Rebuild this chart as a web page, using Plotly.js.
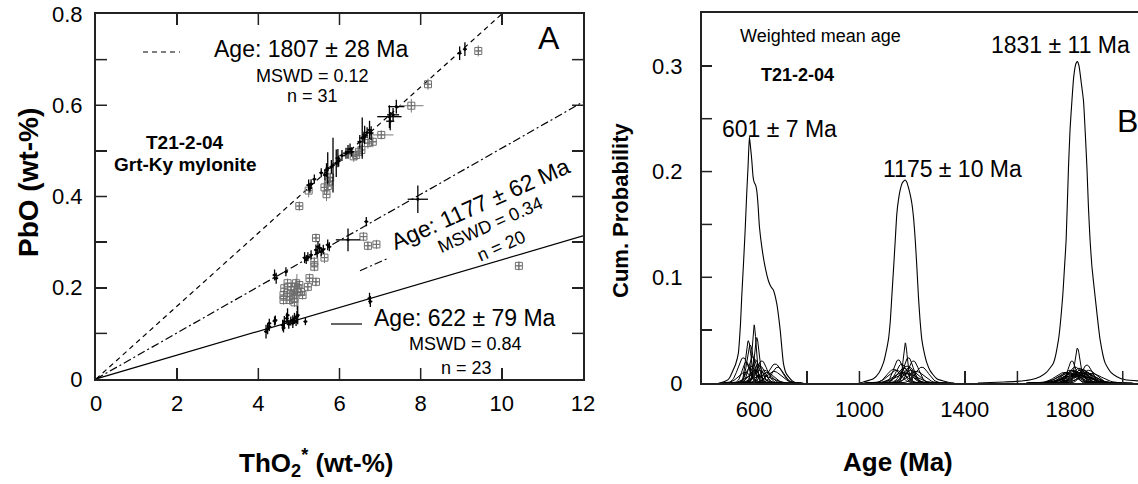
<!DOCTYPE html>
<html><head><meta charset="utf-8">
<script src="https://cdn.plot.ly/plotly-3.0.1.min.js"></script>
<style>html,body{margin:0;padding:0;background:#fff;overflow:hidden}#chart{width:1138px;height:484px}</style>
</head><body><div id="chart"></div>
<script>
// ---------------- Panel A data: ThO2* vs PbO (wt-%) ----------------
// Older population (black, 1807 Ma isochron)
const oldThO2 = [5.24,5.27,5.38,5.55,5.68,5.71,5.84,5.92,5.96,6.16,6.21,6.26,6.30,6.56,6.50,6.62,6.74,6.78,7.23,7.25,7.32,7.40,8.96,9.09,5.64,5.98,6.60,6.06,5.80,6.68,5.30];
const oldPbO  = [0.425,0.418,0.438,0.452,0.458,0.462,0.469,0.473,0.484,0.495,0.498,0.504,0.498,0.528,0.520,0.535,0.546,0.539,0.575,0.565,0.579,0.597,0.714,0.723,0.447,0.478,0.530,0.490,0.465,0.540,0.428];
const oldThErr = [0.06,0.05,0.05,0.05,0.06,0.06,0.05,0.06,0.06,0.08,0.08,0.08,0.06,0.08,0.06,0.06,0.06,0.06,0.30,0.10,0.15,0.20,0.05,0.05,0.05,0.06,0.06,0.06,0.05,0.06,0.05];
const oldPbErr = [0.012,0.010,0.010,0.010,0.015,0.035,0.060,0.030,0.020,0.012,0.015,0.012,0.010,0.045,0.015,0.020,0.020,0.015,0.025,0.020,0.015,0.015,0.015,0.015,0.012,0.012,0.012,0.012,0.015,0.012,0.010];
// Intermediate population (black, 1177 Ma isochron)
const midThO2 = [4.40,4.44,4.68,5.14,5.22,5.30,5.42,5.47,5.51,5.55,5.71,5.75,6.21,6.66,7.93,5.18,5.45,5.60];
const midPbO  = [0.228,0.221,0.235,0.266,0.268,0.272,0.283,0.290,0.287,0.279,0.294,0.290,0.305,0.345,0.394,0.262,0.276,0.284];
const midThErr = [0.05,0.05,0.05,0.05,0.05,0.05,0.05,0.05,0.05,0.05,0.05,0.05,0.30,0.05,0.25,0.05,0.05,0.05];
const midPbErr = [0.012,0.012,0.010,0.012,0.010,0.010,0.012,0.012,0.010,0.010,0.012,0.010,0.025,0.010,0.030,0.010,0.010,0.010];
// Young population (black, 622 Ma isochron)
const youngThO2 = [4.19,4.23,4.27,4.27,4.40,4.42,4.60,4.64,4.62,4.70,4.72,4.80,4.85,4.89,4.93,4.95,4.97,5.16,6.74,6.76,4.75,4.85];
const youngPbO  = [0.104,0.110,0.115,0.122,0.127,0.129,0.118,0.126,0.112,0.133,0.140,0.127,0.122,0.133,0.126,0.137,0.140,0.126,0.177,0.170,0.120,0.130];
const youngThErr = [0.05,0.05,0.05,0.05,0.05,0.05,0.05,0.05,0.05,0.05,0.05,0.05,0.05,0.05,0.05,0.05,0.05,0.05,0.05,0.05,0.05,0.05];
const youngPbErr = [0.015,0.012,0.010,0.010,0.010,0.010,0.012,0.012,0.010,0.012,0.015,0.010,0.010,0.012,0.010,0.012,0.020,0.008,0.012,0.012,0.010,0.010];
// Excluded analyses (grey squares)
const greyThO2 = [5.01,5.24,5.63,5.71,5.75,5.77,5.68,6.35,6.41,6.48,6.54,6.70,6.82,7.03,7.77,8.18,9.42,
                  5.42,5.63,5.38,5.38,6.59,6.70,6.91,4.64,4.62,4.62,4.77,4.89,4.72,4.81,4.89,4.97,5.05,4.93,5.01,4.85,4.72,5.22,5.26,5.42,5.09,4.89,4.95,10.42];
const greyPbO  = [0.379,0.413,0.420,0.423,0.433,0.442,0.405,0.488,0.491,0.498,0.502,0.517,0.520,0.535,0.599,0.646,0.719,
                  0.309,0.266,0.246,0.257,0.312,0.292,0.295,0.199,0.184,0.173,0.173,0.177,0.210,0.202,0.195,0.199,0.191,0.210,0.206,0.184,0.188,0.202,0.221,0.213,0.184,0.168,0.190,0.248];
const greyThErr = [0.06,0.06,0.06,0.06,0.06,0.06,0.06,0.06,0.06,0.06,0.06,0.06,0.10,0.30,0.30,0.06,0.06,
                   0.06,0.06,0.06,0.06,0.06,0.06,0.06,0.06,0.06,0.06,0.06,0.06,0.06,0.06,0.06,0.06,0.06,0.06,0.06,0.06,0.06,0.06,0.06,0.06,0.06,0.06,0.06,0.06];
const greyPbErr = [0.010,0.015,0.015,0.015,0.010,0.010,0.015,0.012,0.012,0.012,0.012,0.012,0.012,0.010,0.015,0.012,0.012,
                   0.010,0.012,0.010,0.010,0.010,0.010,0.010,0.010,0.010,0.010,0.010,0.010,0.010,0.010,0.010,0.010,0.010,0.010,0.010,0.010,0.010,0.010,0.010,0.010,0.010,0.010,0.040,0.010];
// Isochron slopes (PbO per wt-% ThO2*) for 1807, 1177 and 622 Ma
const isoSlopes = [0.0800, 0.0506, 0.02613];
const isoDash = ['5px,4px', '8px,3px,2px,3px', 'solid'];
// tick positions
const aXTicks = [2,4,6,8,10];
const aYTicks = [0.1,0.2,0.3,0.4,0.5,0.6,0.7];
const bXTicks = [600,800,1000,1200,1400,1600,1800,2000];
const bYTicks = [0.05,0.1,0.15,0.2,0.25,0.3];

// ---------------- Panel B data: probability curves ----------------
const env1Age = [470,483,500,509,520,530,540,548,553,560,566,572,577,582,586,591,596,600,606,610,615,620,629,640,654,664,673,686,699,711,720,730,745,762,780];
const env1Val = [0,0.001,0.003,0.006,0.012,0.018,0.028,0.055,0.082,0.115,0.145,0.180,0.205,0.233,0.224,0.211,0.195,0.190,0.187,0.182,0.168,0.148,0.129,0.112,0.097,0.091,0.088,0.075,0.050,0.019,0.010,0.006,0.002,0,0];
const env2Age = [1000,1015,1053,1075,1091,1100,1110,1117,1123,1130,1136,1142,1148,1155,1162,1168,1174,1180,1186,1193,1199,1206,1212,1218,1224,1230,1237,1245,1256,1270,1294,1333,1360];
const env2Val = [0,0.001,0.004,0.010,0.019,0.028,0.041,0.058,0.082,0.110,0.135,0.160,0.173,0.183,0.189,0.191,0.192,0.190,0.185,0.178,0.170,0.155,0.135,0.110,0.082,0.060,0.041,0.030,0.019,0.011,0.004,0.001,0];
const env3Age = [1450,1498,1550,1598,1650,1686,1710,1737,1756,1772,1779,1785,1794,1800,1807,1814,1822,1828,1834,1842,1851,1858,1864,1870,1876,1883,1895,1914,1933,1955,1978,2010,2058];
const env3Val = [0,0.0005,0.001,0.0015,0.003,0.006,0.010,0.019,0.041,0.082,0.110,0.135,0.204,0.240,0.267,0.290,0.302,0.304,0.300,0.285,0.267,0.235,0.204,0.165,0.135,0.110,0.082,0.041,0.019,0.010,0.006,0.003,0.002];
// single analyses: age, 1-sigma error, peak probability
const grainAge  = [600,610,578,585,559,629,680,623,690,595,570,605,640,615,588,650,600,565,620,675,598,630,
                   1174,1148,1186,1205,1237,1160,1170,1180,1195,1140,1215,1165,1178,1130,1190,
                   1828,1807,1864,1820,1835,1845,1800,1815,1850,1790,1870,1830,1810,1840,1825,1855,1780,1880,1833,1822,1860,1795,1838,1812];
const grainErr  = [8,9,10,12,20,20,25,18,22,15,15,14,22,16,18,25,20,25,22,28,30,35,
                   8,18,18,20,25,20,25,22,28,30,30,35,40,25,20,
                   10,15,20,25,25,30,30,35,30,35,30,40,40,35,45,40,35,40,50,45,35,40,30,30];
const grainPeak = [0.055,0.043,0.040,0.036,0.024,0.021,0.018,0.016,0.015,0.025,0.020,0.022,0.012,0.018,0.016,0.010,0.012,0.010,0.012,0.011,0.008,0.007,
                   0.038,0.022,0.024,0.021,0.015,0.018,0.014,0.016,0.012,0.012,0.011,0.010,0.009,0.013,0.015,
                   0.033,0.021,0.017,0.015,0.014,0.013,0.012,0.011,0.012,0.010,0.012,0.010,0.009,0.010,0.008,0.009,0.010,0.009,0.007,0.008,0.010,0.009,0.012,0.012];

// ---------------- build figure ----------------
const W = 1138, H = 484;
const PX = v => v / W, PY = v => 1 - v / H;
const FONT = 'Liberation Sans, Arial, Helvetica, sans-serif';
const traces = [];

isoSlopes.forEach((s, i) => {
  traces.push({x:[0,12], y:[0,12*s], mode:'lines', xaxis:'x', yaxis:'y', hoverinfo:'skip',
    line:{color:'#000', width:1.2, dash:isoDash[i]}});
});
traces.push({x:greyThO2, y:greyPbO, mode:'markers', xaxis:'x', yaxis:'y',
  marker:{symbol:'square-cross-open', size:7, color:'#6e6e6e', line:{width:1, color:'#6e6e6e'}},
  error_x:{type:'data', array:greyThErr, color:'#7a7a7a', thickness:1, width:0},
  error_y:{type:'data', array:greyPbErr, color:'#7a7a7a', thickness:1, width:0}});
[[oldThO2,oldPbO,oldThErr,oldPbErr],[midThO2,midPbO,midThErr,midPbErr],[youngThO2,youngPbO,youngThErr,youngPbErr]].forEach(g => {
  traces.push({x:g[0], y:g[1], mode:'markers', xaxis:'x', yaxis:'y',
    marker:{symbol:'circle', size:3, color:'#000'},
    error_x:{type:'data', array:g[2], color:'#000', thickness:1.3, width:0},
    error_y:{type:'data', array:g[3], color:'#000', thickness:1.3, width:0}});
});

// probability curves of single analyses
for (let i = 0; i < grainAge.length; i++) {
  const a = grainAge[i], s = grainErr[i], h = grainPeak[i];
  const xs = [], ys = [];
  for (let k = -24; k <= 24; k++) {
    const t = a + k * s / 6;
    xs.push(t); ys.push(h * Math.exp(-0.5 * Math.pow((t - a) / s, 2)));
  }
  traces.push({x:xs, y:ys, mode:'lines', xaxis:'x2', yaxis:'y2', hoverinfo:'skip',
    line:{color:'#000', width:1}});
}
[[env1Age,env1Val],[env2Age,env2Val],[env3Age,env3Val]].forEach(e => {
  traces.push({x:e[0], y:e[1], mode:'lines', xaxis:'x2', yaxis:'y2', hoverinfo:'skip',
    line:{color:'#000', width:1.1, shape:'spline', smoothing:0.5}});
});

const ann = (text, x, y, size, opts) => Object.assign({text, x:PX(x), y:PY(y), xref:'paper', yref:'paper',
  showarrow:false, xanchor:'center', yanchor:'middle', font:{family:FONT, size, color:'#000'}}, opts || {});

const annotations = [
  ann('Age: 1807 ± 28 Ma', 311, 49, 23),
  ann('MSWD = 0.12', 312, 76, 18),
  ann('n = 31', 312, 96, 18),
  ann('A', 549, 38, 32),
  ann('<b>T21-2-04</b>', 185, 143, 19),
  ann('<b>Grt-Ky mylonite</b>', 185, 164, 19),
  ann('Age: 1177 ± 62 Ma', 480, 204, 23, {textangle:-24}),
  ann('MSWD = 0.34', 490, 225, 18, {textangle:-24}),
  ann('n = 20', 501, 246, 18, {textangle:-24}),
  ann('Age: 622 ± 79 Ma', 465, 318, 23),
  ann('MSWD = 0.84', 465, 344, 18),
  ann('n = 23', 466, 368, 18),
  ann('<b>PbO (wt-%)</b>', 28, 183, 28, {textangle:-90}),
  ann('<b>ThO<sub>2</sub><sup>*</sup> (wt-%)</b>', 316, 463, 26),
  ann('Weighted mean age', 820, 36, 18),
  ann('<b>T21-2-04</b>', 797, 75, 18),
  ann('1831 ± 11 Ma', 1060, 45, 23),
  ann('601 ± 7 Ma', 779, 129, 23),
  ann('1175 ± 10 Ma', 952, 169, 23),
  ann('B', 1115, 121, 32, {xanchor:'left'}),
  ann('<b>Cum. Probability</b>', 620, 210, 22, {textangle:-90}),
  ann('<b>Age (Ma)</b>', 898, 462, 26)
];

const TICKC = '#222';
const seg = (x0, y0, x1, y1, dash) => ({type:'line', xref:'paper', yref:'paper',
  x0:PX(x0), y0:PY(y0), x1:PX(x1), y1:PY(y1), line:{color:'#000', width:1.2, dash}});
const shapes = [
  seg(143, 52, 180, 52, '5px,4px'),
  seg(360, 270.7, 388, 258.3, '8px,3px,2px,3px'),
  seg(331, 324, 362, 324, 'solid')
];
// frame tick marks (inside), placed at axis values
const vTick = (xr, v, yA, yB) => ({type:'line', layer:'above', xref:xr, yref:'paper', x0:v, x1:v, y0:PY(yA), y1:PY(yB), line:{color:TICKC, width:1.5}});
const hTick = (yr, v, xA, xB) => ({type:'line', layer:'above', xref:'paper', yref:yr, x0:PX(xA), x1:PX(xB), y0:v, y1:v, line:{color:TICKC, width:1.5}});
aXTicks.forEach(v => { shapes.push(vTick('x', v, 379, 368)); shapes.push(vTick('x', v, 14, 25)); });
aYTicks.forEach(v => { shapes.push(hTick('y', v, 96, 107)); shapes.push(hTick('y', v, 583, 572)); });
bXTicks.forEach(v => { shapes.push(vTick('x2', v, 383, 371)); });
bYTicks.forEach(v => { shapes.push(hTick('y2', v, 702, 712)); });

const tickFont = {family:FONT, size:22, color:'#000'};
const axStyle = {showline:true, linecolor:'#222', linewidth:2, tickwidth:1.5, tickcolor:TICKC,
  showgrid:false, zeroline:false, tickfont:tickFont};
const layout = {
  width:W, height:H, margin:{l:0, r:0, t:0, b:0},
  paper_bgcolor:'#fff', plot_bgcolor:'#fff', showlegend:false,
  font:{family:FONT},
  xaxis:Object.assign({}, axStyle, {domain:[PX(96), PX(583)], range:[0,12], dtick:2, tick0:0, anchor:'y',
    mirror:'ticks', ticks:'inside', ticklen:11, ticklabelstandoff:4}),
  yaxis:Object.assign({}, axStyle, {domain:[PY(379), PY(14)], range:[0,0.8], dtick:0.2, tick0:0, anchor:'x',
    mirror:'ticks', ticks:'inside', ticklen:11, ticklabelstandoff:7,
    minor:{dtick:0.1, ticks:'inside', ticklen:11, tickwidth:1.5, tickcolor:TICKC}}),
  xaxis2:Object.assign({}, axStyle, {domain:[PX(702), 1], range:[402,2058], anchor:'y2', tickvals:[600,1000,1400,1800],
    mirror:true, ticks:'inside', ticklen:12, ticklabelstandoff:6,
    minor:{tickvals:[800,1200,1600,2000], ticks:'inside', ticklen:12, tickwidth:1.5, tickcolor:TICKC}}),
  yaxis2:Object.assign({}, axStyle, {domain:[PY(383), PY(13)], range:[0,0.35], dtick:0.1, tick0:0, anchor:'x2',
    mirror:true, ticks:'inside', ticklen:10, ticklabelstandoff:13,
    minor:{dtick:0.05, ticks:'inside', ticklen:10, tickwidth:1.5, tickcolor:TICKC}}),
  annotations, shapes
};
Plotly.newPlot('chart', traces, layout, {staticPlot:true, displayModeBar:false});
</script></body></html>
